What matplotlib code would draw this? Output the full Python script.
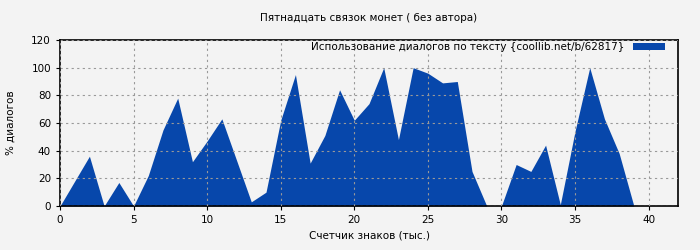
import matplotlib
matplotlib.use("Agg")
import matplotlib.pyplot as plt

# % of dialogue per thousand characters
x_vals = list(range(0, 40))
dialog_pct = [0, 18, 36, 0, 17, 0, 22, 55, 78, 32,
              47, 63, 33, 3, 10, 62, 95, 31, 51, 84,
              62, 74, 100, 48, 100, 96, 89, 90, 25, 0,
              0, 30, 25, 44, 1, 54, 100, 63, 38, 0]
x_ticks = [0, 5, 10, 15, 20, 25, 30, 35, 40]
y_ticks = [0, 20, 40, 60, 80, 100, 120]

bg = "#f3f3f3"
fill_color = "#0747ab"

fig = plt.figure(figsize=(7, 2.5), dpi=100, facecolor=bg)
ax = fig.add_axes([0.0857, 0.176, 0.8829, 0.664], facecolor=bg)

ax.fill_between(x_vals, dialog_pct, 0, color=fill_color, linewidth=0,
                label="Использование диалогов по тексту {coollib.net/b/62817}")

ax.set_xlim(0, 42)
ax.set_ylim(0, 120)
ax.set_xticks(x_ticks)
ax.set_yticks(y_ticks)
ax.tick_params(labelsize=7.5, length=3, color="black")
ax.grid(True, linestyle=(0, (2, 3)), color="#999999", linewidth=0.8)
ax.set_axisbelow(False)
for s in ax.spines.values():
    s.set_linewidth(1.2)

ax.set_title("Пятнадцать связок монет ( без автора)", fontsize=7.5, pad=14)
ax.set_xlabel("Счетчик знаков (тыс.)", fontsize=7.5)
ax.set_ylabel("% диалогов", fontsize=7.5)
ax.yaxis.set_label_coords(-0.072, 0.5)

leg = ax.legend(loc="center right", bbox_to_anchor=(0.979, 0.955), frameon=False,
                fontsize=7.5, markerfirst=False, handlelength=3.1, handleheight=0.62,
                handletextpad=0.85, borderpad=0, borderaxespad=0)

fig.savefig("out.png", dpi=100, facecolor=bg)
